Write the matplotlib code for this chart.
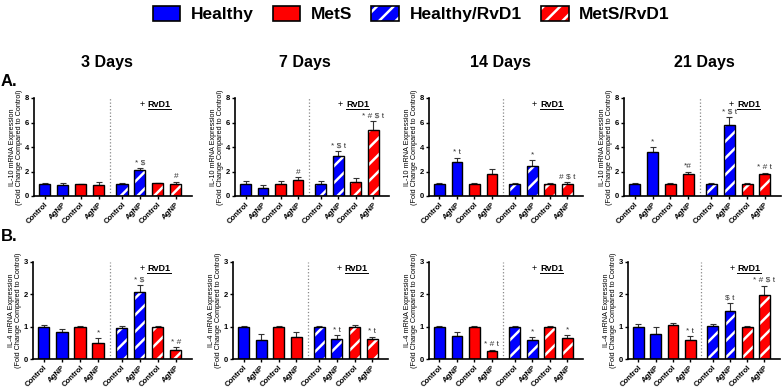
"""
IL-10 / IL-4 mRNA expression after AgNP treatment, with and without RvD1.
"""
import numpy as np
import matplotlib.pyplot as plt
from matplotlib.patches import Patch
from matplotlib.lines import Line2D
from matplotlib.legend_handler import HandlerTuple

plt.rcParams['font.family'] = ['Liberation Sans', 'DejaVu Sans']
plt.rcParams['font.weight'] = 'bold'
plt.rcParams['hatch.linewidth'] = 1.8

days = ['3 Days', '7 Days', '14 Days', '21 Days']
groups = ['Healthy', 'MetS', 'Healthy/RvD1', 'MetS/RvD1']
tick_labels = ['Control', 'AgNP', 'Control', 'AgNP', 'Control', 'AgNP', 'Control', 'AgNP']

# IL-10 (row A), bar order: H ctrl, H AgNP, MetS ctrl, MetS AgNP, then same with RvD1
il10_mean = [
    [1.00, 0.90, 0.97, 0.90, 1.00, 2.12, 1.03, 1.00],
    [1.00, 0.68, 1.00, 1.27, 1.00, 3.30, 1.11, 5.42],
    [0.98, 2.77, 1.00, 1.79, 1.00, 2.44, 1.00, 1.00],
    [1.00, 3.63, 1.00, 1.79, 1.00, 5.83, 1.00, 1.76],
]
il10_err = [
    [0.05, 0.14, 0.05, 0.25, 0.05, 0.18, 0.05, 0.16],
    [0.22, 0.19, 0.19, 0.25, 0.22, 0.36, 0.38, 0.68],
    [0.05, 0.35, 0.05, 0.38, 0.05, 0.49, 0.05, 0.16],
    [0.05, 0.37, 0.05, 0.19, 0.05, 0.62, 0.05, 0.14],
]
il10_marks = [
    ['', '', '', '', '', '* $', '', '#'],
    ['', '', '', '#', '', '* $ t', '', '* # $ t'],
    ['', '* t', '', '', '', '*', '', '# $ t'],
    ['', '*', '', '*#', '', '* $ t', '', '* # t'],
]

# IL-4 (row B)
il4_mean = [
    [1.00, 0.83, 1.00, 0.50, 0.97, 2.06, 1.00, 0.27],
    [1.00, 0.59, 1.00, 0.69, 1.00, 0.62, 1.00, 0.61],
    [1.00, 0.71, 1.00, 0.24, 1.00, 0.59, 0.98, 0.66],
    [1.00, 0.77, 1.06, 0.58, 1.03, 1.48, 1.00, 1.99],
]
il4_err = [
    [0.04, 0.11, 0.02, 0.15, 0.05, 0.22, 0.03, 0.09],
    [0.02, 0.17, 0.02, 0.16, 0.02, 0.11, 0.05, 0.07],
    [0.03, 0.14, 0.03, 0.05, 0.02, 0.08, 0.05, 0.07],
    [0.08, 0.21, 0.06, 0.12, 0.05, 0.24, 0.03, 0.28],
]
il4_marks = [
    ['', '', '', '*', '', '* $', '', '* #'],
    ['', '', '', '', '', '* t', '', '* t'],
    ['', '', '', '* # t', '', '*', '', '*'],
    ['', '', '', '* t', '', '$ t', '', '* # $ t'],
]

BLUE = '#0000FF'
RED = '#FF0000'
bar_colors = [BLUE, BLUE, RED, RED, BLUE, BLUE, RED, RED]
hatched = [False] * 4 + [True] * 4
x = np.array([0, 1, 2, 3, 4.3, 5.3, 6.3, 7.3])
width = 0.62

W, H = 783, 390
fig = plt.figure(figsize=(W / 100, H / 100), dpi=100)


def px_axes(left, top, right, bottom):
    return fig.add_axes([left / W, 1 - bottom / H, (right - left) / W, (bottom - top) / H])


rows = [
    dict(mean=il10_mean, err=il10_err, marks=il10_marks, ymax=8, yticks=[0, 2, 4, 6, 8],
         ylabel='IL-10 mRNA Expression\n(Fold Change Compared to Control)',
         lefts=[34, 235, 429, 624], rights=[192, 389, 583, 781], top=98, bottom=196, pad=0.12),
    dict(mean=il4_mean, err=il4_err, marks=il4_marks, ymax=3, yticks=[0, 1, 2, 3],
         ylabel='IL-4 mRNA Expression\n(Fold Change Compared to Control)',
         lefts=[33, 233, 429, 628], rights=[192, 388, 583, 780], top=262, bottom=359, pad=0.05),
]

rvd_texts = []
for row in rows:
    for i in range(4):
        ax = px_axes(row['lefts'][i], row['top'], row['rights'][i], row['bottom'])
        mean = np.array(row['mean'][i])
        err = np.array(row['err'][i])
        for j in range(8):
            if hatched[j]:
                ax.bar(x[j], mean[j], width, color=bar_colors[j], edgecolor='white',
                       hatch='//', linewidth=0, zorder=2)
                ax.bar(x[j], mean[j], width, fill=False, edgecolor='black', linewidth=1.0, zorder=3)
            else:
                ax.bar(x[j], mean[j], width, color=bar_colors[j], edgecolor='black',
                       linewidth=1.0, zorder=2)
        ax.errorbar(x, mean, yerr=[np.zeros(8), err], fmt='none', ecolor='#333333',
                    elinewidth=0.8, capsize=2, capthick=0.8, zorder=1)
        for j in range(8):
            if row['marks'][i][j]:
                ax.text(x[j], mean[j] + err[j] + row['pad'], row['marks'][i][j], ha='center',
                        va='bottom', fontsize=6, fontweight='normal', color='#333333')

        ax.axvline(3.65, color='#888888', linestyle=':', linewidth=0.9)
        ax.set_xlim(-0.6, 8.2)
        ax.set_ylim(0, row['ymax'])
        ax.set_yticks(row['yticks'])
        ax.set_xticks(x)
        ax.set_xticklabels(tick_labels, rotation=45, ha='right', rotation_mode='anchor',
                           fontsize=5.6)
        ax.tick_params(axis='y', labelsize=5.5, length=2.5, width=1, pad=1)
        ax.tick_params(axis='x', length=2.5, width=1, pad=1)
        ax.set_ylabel(row['ylabel'], fontsize=5.2, labelpad=1.5, linespacing=1.05)
        for s in ['top', 'right']:
            ax.spines[s].set_visible(False)
        for s in ['left', 'bottom']:
            ax.spines[s].set_linewidth(1.2)

        # "+ RvD1" label above the RvD1 group
        ax.text(0.70, 0.93, '+', transform=ax.transAxes, ha='right', va='center',
                fontsize=6.5, fontweight='normal')
        t = ax.text(0.72, 0.93, 'RvD1', transform=ax.transAxes, ha='left', va='center',
                    fontsize=6.5)
        rvd_texts.append(t)

# column titles and panel letters
for name, cx in zip(days, [107, 305, 500, 704]):
    fig.text(cx / W, 1 - 63 / H, name, ha='center', va='center', fontsize=11.5)
fig.text(1 / W, 1 - 82 / H, 'A.', ha='left', va='center', fontsize=12)
fig.text(1 / W, 1 - 237 / H, 'B.', ha='left', va='center', fontsize=12)

# legend
handles = [
    Patch(facecolor=BLUE, edgecolor='black', linewidth=1.2),
    Patch(facecolor=RED, edgecolor='black', linewidth=1.2),
    (Patch(facecolor=BLUE, edgecolor='white', hatch='//', linewidth=0),
     Patch(fill=False, edgecolor='black', linewidth=1.2)),
    (Patch(facecolor=RED, edgecolor='white', hatch='//', linewidth=0),
     Patch(fill=False, edgecolor='black', linewidth=1.2)),
]
fig.legend(handles, groups, loc='center', bbox_to_anchor=(0.525, 1 - 14 / H), ncol=4,
           frameon=False, fontsize=12.5, handlelength=1.6, handleheight=1.0,
           columnspacing=1.1, handletextpad=0.6,
           handler_map={tuple: HandlerTuple(ndivide=1)})

# underline "RvD1"
fig.canvas.draw()
inv = fig.transFigure.inverted()
for t in rvd_texts:
    bb = t.get_window_extent()
    (x0, y0), (x1, _) = inv.transform([[bb.x0, bb.y0 + 0.5], [bb.x1, bb.y0]])
    fig.add_artist(Line2D([x0, x1], [y0, y0], transform=fig.transFigure, color='black',
                          linewidth=0.7))

fig.savefig('out.png', dpi=100)
